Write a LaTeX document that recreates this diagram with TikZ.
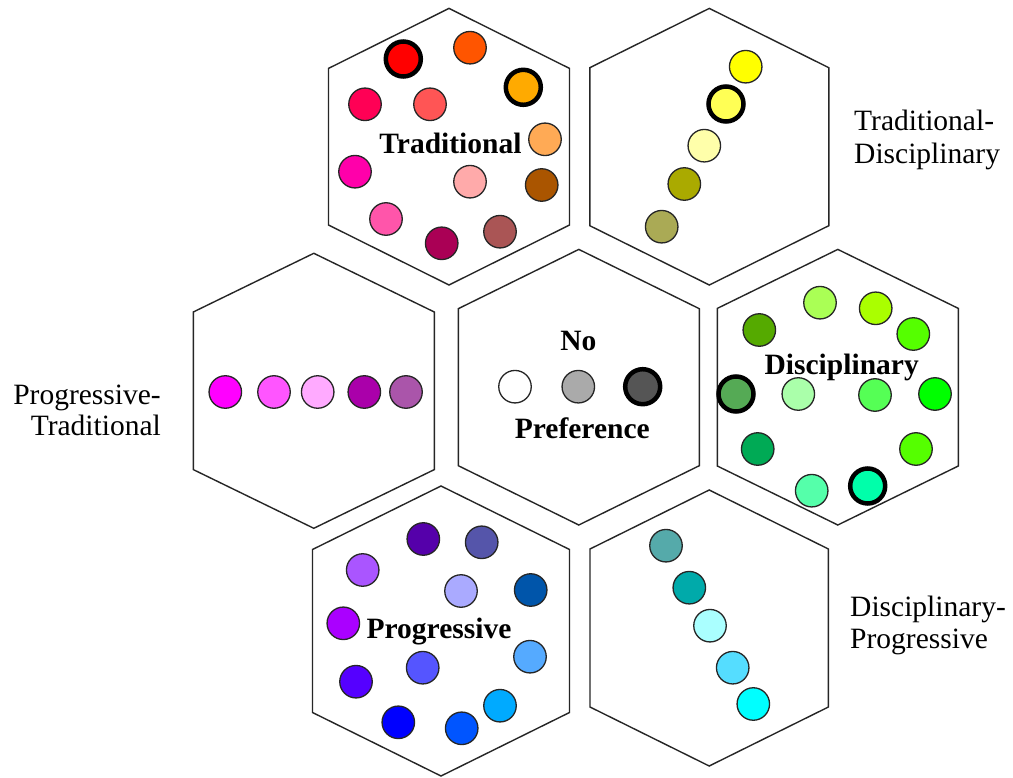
\documentclass[tikz,border=0pt]{standalone}
\usepackage{fontspec}
\setmainfont{Liberation Serif}
\newcommand\hexcell[6]{%
  \coordinate (#1) at (#2,#3);
  \draw[hexline] ({#2},{#3-#5}) -- ({#2+#4},{#3-#6}) -- ({#2+#4},{#3+#6}) -- ({#2},{#3+#5}) -- ({#2-#4},{#3+#6}) -- ({#2-#4},{#3-#6}) -- cycle;}
\newcommand\bead[5]{%
  \definecolor{fill#2}{HTML}{#5}%
  \node[#1, fill=fill#2] (#2) at (#3,#4) {};}
\begin{document}
\begin{tikzpicture}[x=1pt,y=-1pt,
  hexline/.style={draw=black!85, line width=1.4pt, line join=miter},
  ball/.style={circle, draw=black!85, line width=1.3pt, minimum size=32.5pt, inner sep=0pt},
  thickball/.style={circle, draw=black, line width=4.5pt, minimum size=35pt, inner sep=0pt},
  title/.style={font=\fontsize{29.5}{32}\selectfont\bfseries, inner sep=0pt},
  side/.style={font=\fontsize{29.5}{32}\selectfont, inner sep=0pt}]
\useasboundingbox[fill=white] (0,0) rectangle (1013,778);

% hexagons
\hexcell{hT}{449}{146.7}{120.5}{138.3}{78.3}
\hexcell{hTD}{709.3}{146.7}{119.5}{138.3}{79}
\hexcell{hPT}{313.8}{390.8}{120.5}{137.5}{78.8}
\hexcell{hN}{578.8}{387.2}{120.5}{137.8}{78.5}
\hexcell{hD}{837.8}{387.2}{120.5}{137.8}{78.8}
\hexcell{hP}{441}{631}{128.5}{145}{81.5}
\hexcell{hDP}{709.2}{628}{119.2}{138}{79}

% Traditional
\bead{thickball}{t1}{403.3}{59}{FF0000}
\bead{ball}{t2}{470}{47.7}{FF5500}
\bead{thickball}{t3}{523.3}{87.3}{FFAA00}
\bead{ball}{t4}{365}{104.3}{FF0055}
\bead{ball}{t5}{430}{104.3}{FF5555}
\bead{ball}{t6}{545}{139.3}{FFAA55}
\bead{ball}{t7}{355}{171.7}{FF00AA}
\bead{ball}{t8}{470}{181.7}{FFAAAA}
\bead{ball}{t9}{541.7}{185}{AA5500}
\bead{ball}{t10}{386}{219}{FF55AA}
\bead{ball}{t11}{441.7}{243.3}{AA0055}
\bead{ball}{t12}{500}{231.7}{AA5555}
\node[title, anchor=base] (lT) at (450.5,154) {Traditional};

% Traditional-Disciplinary
\bead{ball}{td1}{745.7}{66.7}{FFFF00}
\bead{thickball}{td2}{726}{104}{FFFF55}
\bead{ball}{td3}{704.3}{145.7}{FFFFAA}
\bead{ball}{td4}{684.3}{184}{AAAA00}
\bead{ball}{td5}{661.7}{226.7}{AAAA55}
\node[side, anchor=base west] (lTDa) at (854,131) {Traditional-};
\node[side, anchor=base west] (lTDb) at (854,163.3) {Disciplinary};

% Progressive-Traditional
\bead{ball}{pt1}{225.3}{392}{FF00FF}
\bead{ball}{pt2}{274}{392}{FF55FF}
\bead{ball}{pt3}{317.7}{392}{FFAAFF}
\bead{ball}{pt4}{364.3}{392}{AA00AA}
\bead{ball}{pt5}{406}{392}{AA55AA}
\node[side, anchor=base east] (lPTa) at (161,404) {Progressive-};
\node[side, anchor=base east] (lPTb) at (161,435) {Traditional};

% No Preference
\bead{ball}{n1}{515}{386.7}{FFFFFF}
\bead{ball}{n2}{578.3}{386.7}{AAAAAA}
\bead{thickball}{n3}{642.7}{386.7}{555555}
\node[title, anchor=base] (lNa) at (578.3,350.7) {No};
\node[title, anchor=base] (lNb) at (582.3,438.3) {Preference};

% Disciplinary
\bead{ball}{d1}{820}{302.7}{AAFF55}
\bead{ball}{d2}{875.7}{308.3}{AAFF00}
\bead{ball}{d3}{759.3}{330}{55AA00}
\bead{ball}{d4}{913.3}{334}{55FF00}
\bead{thickball}{d5}{736}{394}{55AA55}
\bead{ball}{d6}{798.3}{394}{AAFFAA}
\bead{ball}{d7}{875}{395}{55FF55}
\bead{ball}{d8}{935}{394}{00FF00}
\bead{ball}{d9}{757.7}{449}{00AA55}
\bead{ball}{d10}{916}{449}{55FF00}
\bead{ball}{d11}{811.7}{490.7}{55FFAA}
\bead{thickball}{d12}{867.7}{486}{00FFAA}
\node[title, anchor=base] (lD) at (841.7,374) {Disciplinary};

% Progressive
\bead{ball}{p1}{423.3}{539}{5500AA}
\bead{ball}{p2}{481.7}{542.3}{5555AA}
\bead{ball}{p3}{362.7}{570}{AA55FF}
\bead{ball}{p4}{461}{591}{AAAAFF}
\bead{ball}{p5}{530.7}{590}{0055AA}
\bead{ball}{p6}{343.3}{623.3}{AA00FF}
\bead{ball}{p7}{530}{656.7}{55AAFF}
\bead{ball}{p8}{422.7}{667.7}{5555FF}
\bead{ball}{p9}{356}{681.7}{5500FF}
\bead{ball}{p10}{500}{705.7}{00AAFF}
\bead{ball}{p11}{398.3}{722.3}{0000FF}
\bead{ball}{p12}{461.7}{728.3}{0055FF}
\node[title, anchor=base] (lP) at (439,638.3) {Progressive};

% Disciplinary-Progressive
\bead{ball}{dp1}{666}{545.7}{55AAAA}
\bead{ball}{dp2}{689.3}{587.7}{00AAAA}
\bead{ball}{dp3}{710}{625.7}{AAFFFF}
\bead{ball}{dp4}{732.7}{667.7}{55DDFF}
\bead{ball}{dp5}{753.3}{704}{00FFFF}
\node[side, anchor=base west] (lDPa) at (850,616.7) {Disciplinary-};
\node[side, anchor=base west] (lDPb) at (850,648.3) {Progressive};
\end{tikzpicture}
\end{document}
